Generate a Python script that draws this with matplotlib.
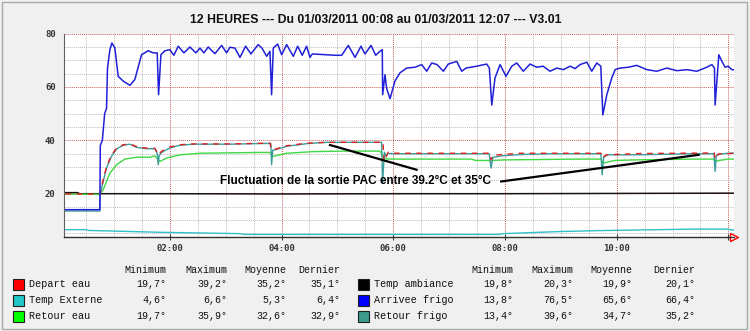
import matplotlib
matplotlib.use("Agg")
import matplotlib.pyplot as plt
from matplotlib.patches import Rectangle
from matplotlib.ticker import MultipleLocator, FixedLocator, FuncFormatter

W, H = 750, 331

TITLE = "12 HEURES --- Du 01/03/2011 00:08 au 01/03/2011 12:07 --- V3.01"
NOTE = "Fluctuation de la sortie PAC entre 39.2°C et 35°C"

# time in minutes after 00:00, temperatures in degrees C
arrivee_t = [8, 44.8, 45.3, 47.5, 50, 52, 53, 55.6, 57.7, 60.9, 64.5, 69.9, 77.1, 82.4,
             89.6, 96.7, 102.1, 106.4, 107.9, 110.4, 114.7, 120, 124.3, 129, 135.1,
             141.5, 148, 152.3, 156.6, 161.2, 168.4, 175.6, 181, 184.5, 189.9, 195.3,
             201.4, 207.1, 214.9, 218.9, 224, 227.5, 229.3, 231.1, 235.8, 240.1, 245.5,
             252.6, 257.3, 262.2, 266.9, 270.5, 273, 286.6, 297.4, 304.6, 311.7, 318.9,
             325.3, 329.6, 336.1, 341.1, 345.7, 348.2, 348.6, 351.1, 352.9, 356.5,
             361.8, 367.2, 374.4, 383.3, 390.5, 395.9, 401.3, 407, 413.8, 419.1, 428.2,
             433.5, 438.2, 449.6, 460.4, 463.2, 465.8, 469.3, 474.7, 481.1, 487.3,
             492.6, 499.7, 506.9, 514.1, 520.9, 528.4, 535.6, 542.7, 549.9, 555.3,
             560.7, 567.9, 573.2, 578.6, 582.9, 585.1, 589.4, 594.7, 598.3, 603.7,
             612.3, 621.6, 632.4, 643.1, 653.8, 664.6, 675.3, 686.1, 696.8, 702.2,
             705, 705.7, 707.6, 709.7, 713, 716.5, 719.7, 723.7, 727]
arrivee_v = [13.9, 13.9, 38, 40, 50, 52, 67, 74, 76.5, 74.7, 64, 62.2, 60.6, 62.8,
             72.1, 73.6, 72.8, 72.8, 57.1, 72.1, 73.6, 74, 71.9, 75.3, 72.8,
             75, 72.8, 74.6, 72.8, 75, 72.5, 75.6, 72.8, 74.9, 74.6, 71.1,
             75.3, 72.4, 75.9, 74.6, 71.5, 73.4, 57.1, 74.6, 76.1, 72.1, 75.9,
             71.5, 75.3, 71.9, 75.3, 71.1, 72.4, 72.1, 71.9, 71.9, 75.6, 71.1,
             75.3, 72.4, 75.6, 71.9, 73.4, 74, 57.1, 64.6, 59.4, 55.6,
             62.2, 65.3, 67.1, 67.4, 68.4, 65.9, 69, 68.4, 65.9, 68.6, 69.6,
             65.9, 67.1, 67.8, 68.6, 67.1, 53.2, 63.4, 68.4, 64, 67.8,
             69, 65.9, 68.6, 67.4, 67.8, 65.9, 67.1, 66.5, 67.8, 66.9,
             68.4, 69.3, 65.9, 69, 67.8, 49.5, 57.1, 63.4, 66.5, 67.1,
             67.4, 68.1, 66.5, 65.9, 67.1, 66.1, 66.5, 65.9, 67.4, 68.4,
             67.1, 53.2, 62, 72.1, 69.6, 67.4, 67.8, 66.5, 66.4]

depart_t = [8, 44.8, 48.4, 52, 57.4, 62.8, 69.9, 77.1, 84.3, 95, 103.9, 107.5, 111.1,
            120, 130.8, 145.1, 184.5, 227.5, 229.3, 232.9, 245.5, 267, 288.4, 349,
            350, 354.6, 361.8, 463.9, 465, 467, 476.7, 496, 583, 584.4, 588.7, 625,
            704.7, 705.7, 709, 727]
depart_v = [19.8, 19.7, 25.1, 30.1, 34.5, 37, 38.3, 38.6, 37.6, 37, 37, 34.5, 35.8,
            37.4, 38.3, 38.6, 38.6, 38.9, 36.4, 36.6, 37.9, 38.9, 39.2, 39.2,
            32, 35.5, 35.1, 35.1, 32.6, 34.3, 34.6, 35.1, 35.1, 33.3, 34.5, 35,
            35.2, 32.8, 34.8, 35.1]

rfrigo_t = [8, 44.8, 45.3, 48.4, 52, 57.4, 62.8, 69.9, 77.1, 84.3, 95, 103.9, 106.5,
            107.5, 108.5, 111.1, 120, 130.8, 145.1, 184.5, 227, 228.5, 229.3, 230.5,
            232.9, 245.5, 267, 288.4, 347.5, 348.5, 350.5, 352, 354, 361.8, 463, 465,
            467, 476.7, 496, 530, 583, 584.4, 586, 590, 620, 680, 704.5, 705.7, 707,
            712, 727]
rfrigo_v = [13.4, 13.4, 20, 24.5, 29.6, 34, 36.7, 38.1, 38.5, 37.3, 36.8, 36.8, 35,
            30.8, 34.2, 35.4, 37.1, 38.1, 38.5, 38.5, 38.8, 38.8, 30.8, 36.2,
            36.4, 37.7, 38.7, 39.2, 39.2, 24, 35.5, 34, 35, 34.9, 34.9, 29.5,
            33.6, 34.1, 34.6, 34.9, 34.9, 27, 33.5, 34.5, 34.5, 34.9, 34.9, 28.3, 34.3,
            34.9, 35.2]

retour_t = [8, 44.8, 48.4, 55.6, 62.8, 71.7, 84.3, 98.6, 103.9, 109.3, 116.5, 130.8,
            152.3, 216.8, 227.5, 230.7, 245.5, 274, 306.3, 345.7, 350, 354, 444, 448,
            463.5, 465, 467, 480, 558.8, 583.5, 585.3, 598, 620, 684, 704, 705.7, 710,
            720, 727]
retour_v = [19.7, 19.7, 21.4, 27.6, 30.8, 32.9, 33.6, 33.6, 34.1, 32, 33.3, 34.5,
            35.1, 35.4, 35.4, 33.9, 35.1, 35.7, 35.9, 35.9, 33.5, 32.9, 32.9, 32.4,
            32.4, 31.8, 32.4, 32.6, 32.9, 32.9, 31.4, 32.4, 32.6, 32.9, 32.9, 32, 32.4,
            32.9, 32.9]

ambiance_t = [8, 21, 23, 120, 240, 360, 480, 600, 720, 727]
ambiance_v = [20.3, 20.3, 19.9, 19.9, 19.8, 19.9, 19.9, 20.0, 20.1, 20.1]

externe_t = [8, 30, 33, 110, 195, 200, 474, 478, 540, 590, 683, 719, 725, 727]
externe_v = [6.4, 6.4, 6.1, 5.4, 4.9, 4.6, 4.6, 4.9, 5.7, 6.1, 6.6, 6.6, 6.2, 6.4]

# legend table
names_left = ["Depart eau", "Temp Externe", "Retour eau"]
names_right = ["Temp ambiance", "Arrivee frigo", "Retour frigo"]
colors_left = ["#ff0000", "#20c8c8", "#00ff00"]
colors_right = ["#000000", "#0000ff", "#3c9c8c"]
stat_heads = ["Minimum", "Maximum", "Moyenne", "Dernier"]
stats_left = [[19.7, 39.2, 35.2, 35.1], [4.6, 6.6, 5.3, 6.4], [19.7, 35.9, 32.6, 32.9]]
stats_right = [[19.8, 20.3, 19.9, 20.1], [13.8, 76.5, 65.6, 66.4], [13.4, 39.6, 34.7, 35.2]]

SANS = ["Liberation Sans", "DejaVu Sans"]
MONO = ["Liberation Mono", "DejaVu Sans Mono"]


def hrs(ts):
    return [t / 60.0 for t in ts]


def fx(x):
    return x / W


def fy(y):
    return 1 - y / H


fig = plt.figure(figsize=(7.5, 3.31), dpi=100, facecolor="#f0f0f0")
fig.patches.append(Rectangle((fx(2), fy(329)), 745 / W, 327 / H, transform=fig.transFigure,
                             fill=False, edgecolor="#a8a8a8", lw=1.0))

ax = fig.add_axes([fx(64), fy(236.7), 670 / W, (236.7 - 33.7) / H])
ax.set_facecolor("white")

ax.plot(hrs(externe_t), externe_v, color="#30c0c8", lw=1.0)
ax.plot(hrs(ambiance_t), ambiance_v, color="#1a1010", lw=1.1)
ax.plot(hrs(retour_t), retour_v, color="#40d840", lw=1.0)
ax.plot(hrs(rfrigo_t), rfrigo_v, color="#3c9c9c", lw=1.0)
ax.plot(hrs(depart_t), depart_v, color="#e02020", lw=1.0, dashes=(4, 4))
ax.plot(hrs(arrivee_t), arrivee_v, color="#2020d8", lw=1.1)

ax.set_xlim(0.105, 12.10)
ax.set_ylim(3.75, 80)

ax.xaxis.set_major_locator(FixedLocator([2, 4, 6, 8, 10, 12]))
ax.xaxis.set_minor_locator(MultipleLocator(0.5))
ax.xaxis.set_major_formatter(FuncFormatter(lambda v, p: "" if v >= 12 else "%02d:00" % v))
ax.yaxis.set_major_locator(MultipleLocator(20))
ax.yaxis.set_minor_locator(MultipleLocator(5))

ax.grid(which="minor", color="#bcbcbc", lw=0.7, linestyle=(0, (1, 1)))
ax.grid(which="major", color="#c86060", lw=0.7, linestyle=(0, (1, 1)))
ax.set_axisbelow(True)

for lab in ax.get_xticklabels() + ax.get_yticklabels():
    lab.set_family(["DejaVu Sans Mono"])
    lab.set_fontweight("bold")
    lab.set_fontsize(6.5)
    lab.set_color("#333333")
ax.tick_params(axis="x", which="major", direction="inout", length=5, width=0.8,
               color="#404040", pad=3)
ax.tick_params(axis="x", which="minor", length=0)
ax.tick_params(axis="y", which="both", length=0, pad=6)

for side in ("top", "right"):
    ax.spines[side].set_visible(False)
ax.spines["left"].set_color("#606060")
ax.spines["left"].set_linewidth(0.8)
ax.spines["bottom"].set_color("#303030")
ax.spines["bottom"].set_linewidth(1.0)
ax.plot([1.0], [0.0], marker=">", ms=6, mfc="white", mec="red", mew=1.0,
        transform=ax.transAxes, clip_on=False)

# annotation
ax.text(173.8 / 60, 24.8, NOTE, family=SANS, fontweight="bold", fontsize=8.5,
        va="center", ha="left", color="black")
ax.plot([292 / 60, 385 / 60], [38.2, 28.9], color="black", lw=1.6)
ax.plot([476 / 60, 688 / 60], [24.5, 34.5], color="black", lw=1.6)

fig.text(fx(375.5), fy(20), TITLE, family=SANS, fontweight="bold", fontsize=8.8,
         ha="center", va="center", color="#101010")

# legend table
row_y = [284, 300, 316]
head_y = 270
groups = [
    (names_left, colors_left, stats_left, 13.3, [166, 227, 286, 340]),
    (names_right, colors_right, stats_right, 358.3, [513, 573, 632, 695]),
]
for names, cols, stats, sx, col_x in groups:
    for cx, head in zip(col_x, stat_heads):
        fig.text(fx(cx), fy(head_y), head, family=MONO, fontsize=7.2, ha="right",
                 va="center", color="#101010")
    for ry, name, c, vals in zip(row_y, names, cols, stats):
        fig.patches.append(Rectangle((fx(sx), fy(ry + 5.5)), 11 / W, 11 / H,
                                     transform=fig.transFigure, facecolor=c,
                                     edgecolor="#202020", lw=0.8))
        fig.text(fx(sx + 15.5), fy(ry), name, family=MONO, fontsize=7.3, ha="left",
                 va="center", color="#101010")
        for cx, v in zip(col_x, vals):
            fig.text(fx(cx), fy(ry), ("%.1f" % v).replace(".", ",") + "°", family=MONO,
                     fontsize=7.2, ha="right", va="center", color="#101010")

fig.savefig("out.png", dpi=100, facecolor=fig.get_facecolor())
